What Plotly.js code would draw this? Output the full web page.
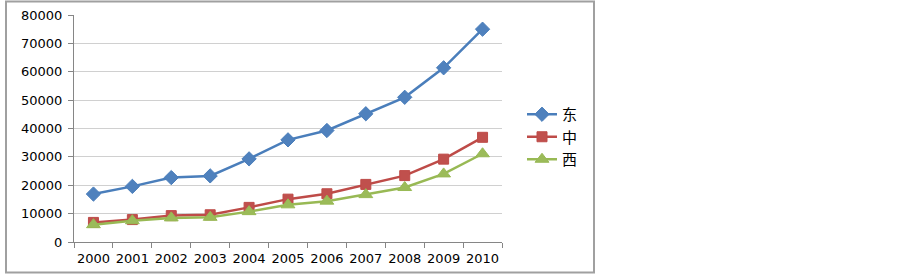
<!DOCTYPE html>
<html>
<head>
<meta charset="utf-8">
<script src="https://cdn.plot.ly/plotly-3.0.1.min.js"></script>
<style>html,body{margin:0;padding:0;background:#fff;}#chart{width:903px;height:275px;}</style>
</head>
<body>
<div id="chart"></div>
<script>
const years = ["2000","2001","2002","2003","2004","2005","2006","2007","2008","2009","2010"];
const east = [16900, 19600, 22700, 23300, 29300, 36000, 39300, 45200, 51000, 61400, 75000];
const central = [6900, 7900, 9300, 9600, 12200, 15100, 17000, 20300, 23400, 29200, 36900];
const west = [6100, 7500, 8500, 8700, 10700, 13100, 14400, 16700, 19200, 24000, 31100];
const names = ["东", "中", "西"];

const font = "DejaVu Sans, Verdana, 'Noto Sans CJK SC', sans-serif";
const L = 74, R = 502, T = 15, B = 242, W = 903, H = 275;
const pw = R - L, ph = B - T;

const traces = [
  {x: years, y: east, name: names[0], type: "scatter", mode: "lines+markers",
   line: {color: "#4A7EBB", width: 2.5},
   marker: {symbol: "diamond", size: 11, color: "#4F81BD", line: {color: "#4A7EBB", width: 1}}},
  {x: years, y: central, name: names[1], type: "scatter", mode: "lines+markers",
   line: {color: "#BE4B48", width: 2.5},
   marker: {symbol: "square", size: 10, color: "#C0504D", line: {color: "#BE4B48", width: 1}}},
  {x: years, y: west, name: names[2], type: "scatter", mode: "lines+markers",
   line: {color: "#98B954", width: 2.5},
   marker: {symbol: "triangle-up", size: 12, color: "#9BBB59", line: {color: "#98B954", width: 1}}}
];

const layout = {
  width: W, height: H,
  margin: {l: L, r: W - R, t: T, b: H - B, pad: 0},
  paper_bgcolor: "#fff", plot_bgcolor: "#fff",
  font: {family: font, size: 13, color: "#000"},
  showlegend: true,
  legend: {x: (522 - L) / pw, y: (242 - 98) / ph, xanchor: "left", yanchor: "top",
           font: {family: "'Noto Sans CJK SC', DejaVu Sans, sans-serif", size: 15, color: "#000"},
           itemwidth: 30, tracegroupgap: 0, bgcolor: "rgba(0,0,0,0)"},
  xaxis: {type: "category", range: [-0.5, 10.5], tickson: "boundaries", tickangle: 0,
          ticks: "outside", ticklen: 5, tickcolor: "#868686", ticklabelstandoff: 4,
          showline: true, linecolor: "#868686", linewidth: 1,
          showgrid: false, zeroline: false, fixedrange: true,
          tickfont: {family: font, size: 13}},
  yaxis: {range: [0, 80000], dtick: 10000, tickformat: "d",
          ticks: "outside", ticklen: 5, tickcolor: "#868686",
          showline: true, linecolor: "#868686", linewidth: 1,
          showgrid: true, gridcolor: "#D0D0D0", gridwidth: 1,
          zeroline: false, fixedrange: true, ticklabelstandoff: 3,
          tickfont: {family: font, size: 13}},
  shapes: [{type: "rect", xref: "paper", yref: "paper",
            x0: (6 - L) / pw, x1: (594 - L) / pw,
            y0: (B - 272.5) / ph, y1: (B - 1.5) / ph,
            line: {color: "#A0A0A0", width: 2}, fillcolor: "rgba(0,0,0,0)", layer: "below"}]
};

Plotly.newPlot("chart", traces, layout, {displayModeBar: false, staticPlot: true});
</script>
</body>
</html>
